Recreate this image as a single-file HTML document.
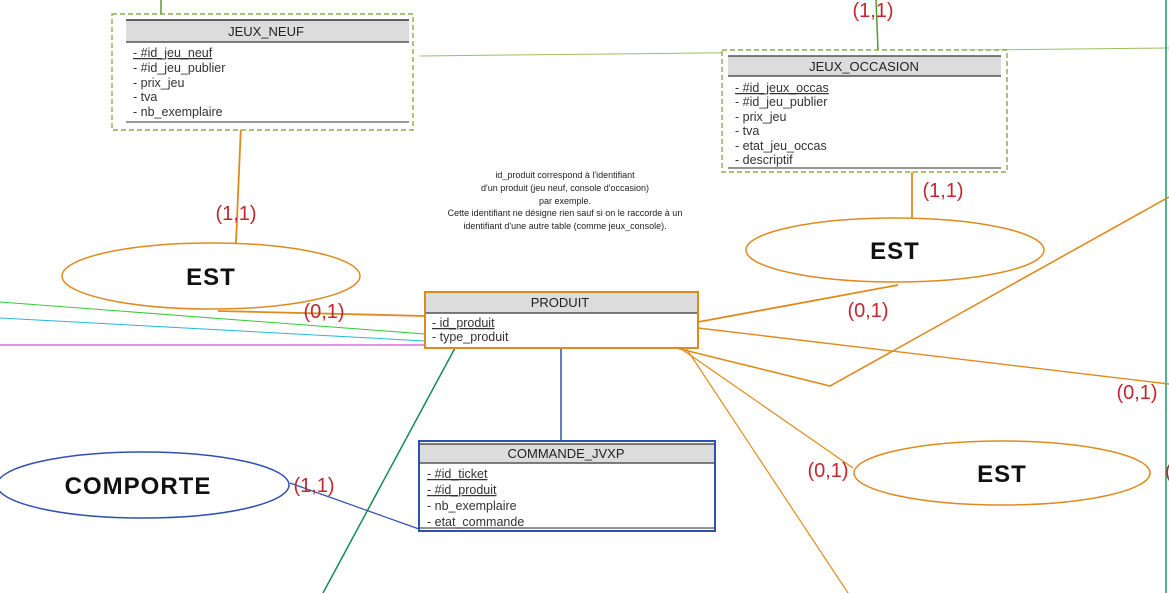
<!DOCTYPE html>
<html><head><meta charset="utf-8"><style>
body{margin:0;background:#fff}
svg{display:block}
.t{font-family:"Liberation Sans",sans-serif;font-size:12.5px;fill:#333}
.h{font-family:"Liberation Sans",sans-serif;font-size:13px;fill:#222}
.c{font-family:"Liberation Sans",sans-serif;font-size:20px;fill:#c0282d}
.e{font-family:"Liberation Sans",sans-serif;font-size:24px;fill:#111;letter-spacing:1px;font-weight:bold}
.n{font-family:"Liberation Sans",sans-serif;font-size:9px;fill:#222}
</style></head><body>
<svg width="1169" height="593" viewBox="0 0 1169 593" xmlns="http://www.w3.org/2000/svg">
<line x1="161" y1="0" x2="161" y2="14" stroke="#5a9a2a" stroke-width="1.5"/>
<line x1="420" y1="56" x2="1169" y2="48" stroke="#9ac060" stroke-width="1"/>
<line x1="876" y1="0" x2="878" y2="50" stroke="#5a9a2a" stroke-width="1.5"/>
<line x1="1166" y1="0" x2="1166" y2="593" stroke="#1a9a6a" stroke-width="1.5"/>
<line x1="0" y1="302" x2="425" y2="334" stroke="#33cc33" stroke-width="1"/>
<line x1="0" y1="318" x2="425" y2="341" stroke="#22b8d8" stroke-width="1"/>
<line x1="0" y1="345" x2="425" y2="345" stroke="#cc22cc" stroke-width="1"/>
<g stroke="#e08a1e" fill="none" stroke-width="1.8">
<line x1="241" y1="125" x2="236" y2="243"/>
<line x1="218" y1="311" x2="425" y2="316"/>
<line x1="912" y1="172" x2="912" y2="218"/>
<line x1="698" y1="322" x2="898" y2="285"/>
<line x1="698" y1="328" x2="1169" y2="384" stroke-width="1.4"/>
<polyline points="676,348 830,386 1169,197" stroke-width="1.6"/>
<line x1="680" y1="348" x2="853" y2="468" stroke-width="1.2"/>
<line x1="686" y1="348" x2="848" y2="593" stroke-width="1.2"/>
</g>
<line x1="455" y1="348" x2="323" y2="593" stroke="#138a5a" stroke-width="1.5"/>
<line x1="561" y1="348" x2="561" y2="441" stroke="#3050b0" stroke-width="1.5"/>
<line x1="290" y1="483" x2="419" y2="529" stroke="#3050b0" stroke-width="1.2"/>

<rect x="112" y="14" width="301" height="116" fill="#fff" stroke="#7a9a30" stroke-width="1.2" stroke-dasharray="5,3"/>
<rect x="126" y="20" width="283" height="22" fill="#dcdcdc"/>
<line x1="126" y1="20" x2="409" y2="20" stroke="#333" stroke-width="1.5"/>
<line x1="126" y1="42" x2="409" y2="42" stroke="#555" stroke-width="1.5"/>
<line x1="126" y1="122" x2="409" y2="122" stroke="#333" stroke-width="1"/>
<text class="h" x="266" y="36" text-anchor="middle">JEUX_NEUF</text>
<text class="t" x="133" y="57" text-decoration="underline">- #id_jeu_neuf</text>
<text class="t" x="133" y="72">- #id_jeu_publier</text>
<text class="t" x="133" y="87">- prix_jeu</text>
<text class="t" x="133" y="101">- tva</text>
<text class="t" x="133" y="116">- nb_exemplaire</text>

<rect x="722" y="50" width="285" height="122" fill="#fff" stroke="#7a9a30" stroke-width="1.2" stroke-dasharray="5,3"/>
<rect x="728" y="56" width="273" height="20" fill="#dcdcdc"/>
<line x1="728" y1="56" x2="1001" y2="56" stroke="#333" stroke-width="1.2"/>
<line x1="728" y1="76" x2="1001" y2="76" stroke="#333" stroke-width="1.2"/>
<line x1="728" y1="168" x2="1001" y2="168" stroke="#555" stroke-width="1.2"/>
<text class="h" x="864" y="71" text-anchor="middle">JEUX_OCCASION</text>
<text class="t" x="735" y="92" text-decoration="underline">- #id_jeux_occas</text>
<text class="t" x="735" y="106">- #id_jeu_publier</text>
<text class="t" x="735" y="121">- prix_jeu</text>
<text class="t" x="735" y="135">- tva</text>
<text class="t" x="735" y="150">- etat_jeu_occas</text>
<text class="t" x="735" y="164">- descriptif</text>

<rect x="425" y="292" width="273" height="56" fill="#fff" stroke="#e08a1e" stroke-width="2"/>
<rect x="426" y="293" width="271" height="20" fill="#dcdcdc"/>
<line x1="426" y1="313" x2="697" y2="313" stroke="#333" stroke-width="1.2"/>
<text class="h" x="560" y="307" text-anchor="middle">PRODUIT</text>
<text class="t" x="432" y="327" text-decoration="underline">- id_produit</text>
<text class="t" x="432" y="341">- type_produit</text>

<rect x="419" y="441" width="296" height="90" fill="#fff" stroke="#3050b0" stroke-width="2"/>
<rect x="420" y="444" width="294" height="19" fill="#dcdcdc"/>
<line x1="420" y1="444" x2="714" y2="444" stroke="#333" stroke-width="1.2"/>
<line x1="420" y1="463" x2="714" y2="463" stroke="#555" stroke-width="1.5"/>
<line x1="420" y1="528" x2="714" y2="528" stroke="#555" stroke-width="1.2"/>
<text class="h" x="566" y="458" text-anchor="middle">COMMANDE_JVXP</text>
<text class="t" x="427" y="478" text-decoration="underline">- #id_ticket</text>
<text class="t" x="427" y="494" text-decoration="underline">- #id_produit</text>
<text class="t" x="427" y="510">- nb_exemplaire</text>
<text class="t" x="427" y="526">- etat_commande</text>

<ellipse cx="211" cy="276" rx="149" ry="33" fill="#fff" stroke="#e08a1e" stroke-width="1.5"/>
<text class="e" x="211" y="285" text-anchor="middle">EST</text>
<ellipse cx="895" cy="250" rx="149" ry="32" fill="#fff" stroke="#e08a1e" stroke-width="1.5"/>
<text class="e" x="895" y="259" text-anchor="middle">EST</text>
<ellipse cx="1002" cy="473" rx="148" ry="32" fill="#fff" stroke="#e08a1e" stroke-width="1.5"/>
<text class="e" x="1002" y="482" text-anchor="middle">EST</text>
<ellipse cx="143" cy="485" rx="146" ry="33" fill="#fff" stroke="#3050b0" stroke-width="1.5"/>
<text class="e" x="138" y="494" text-anchor="middle">COMPORTE</text>

<text class="c" x="236" y="220" text-anchor="middle">(1,1)</text>
<text class="c" x="324" y="318" text-anchor="middle">(0,1)</text>
<text class="c" x="873" y="17" text-anchor="middle">(1,1)</text>
<text class="c" x="943" y="197" text-anchor="middle">(1,1)</text>
<text class="c" x="868" y="317" text-anchor="middle">(0,1)</text>
<text class="c" x="1137" y="399" text-anchor="middle">(0,1)</text>
<text class="c" x="828" y="477" text-anchor="middle">(0,1)</text>
<text class="c" x="1165" y="478">(</text>
<text class="c" x="314" y="492" text-anchor="middle">(1,1)</text>

<g class="n" text-anchor="middle">
<text x="565" y="178">id_produit correspond à l'identifiant</text>
<text x="565" y="191">d'un produit (jeu neuf, console d'occasion)</text>
<text x="565" y="204">par exemple.</text>
<text x="565" y="216">Cette identifiant ne désigne rien sauf si on le raccorde à un</text>
<text x="565" y="229">identifiant d'une autre table (comme jeux_console).</text>
</g>
</svg>
</body></html>
